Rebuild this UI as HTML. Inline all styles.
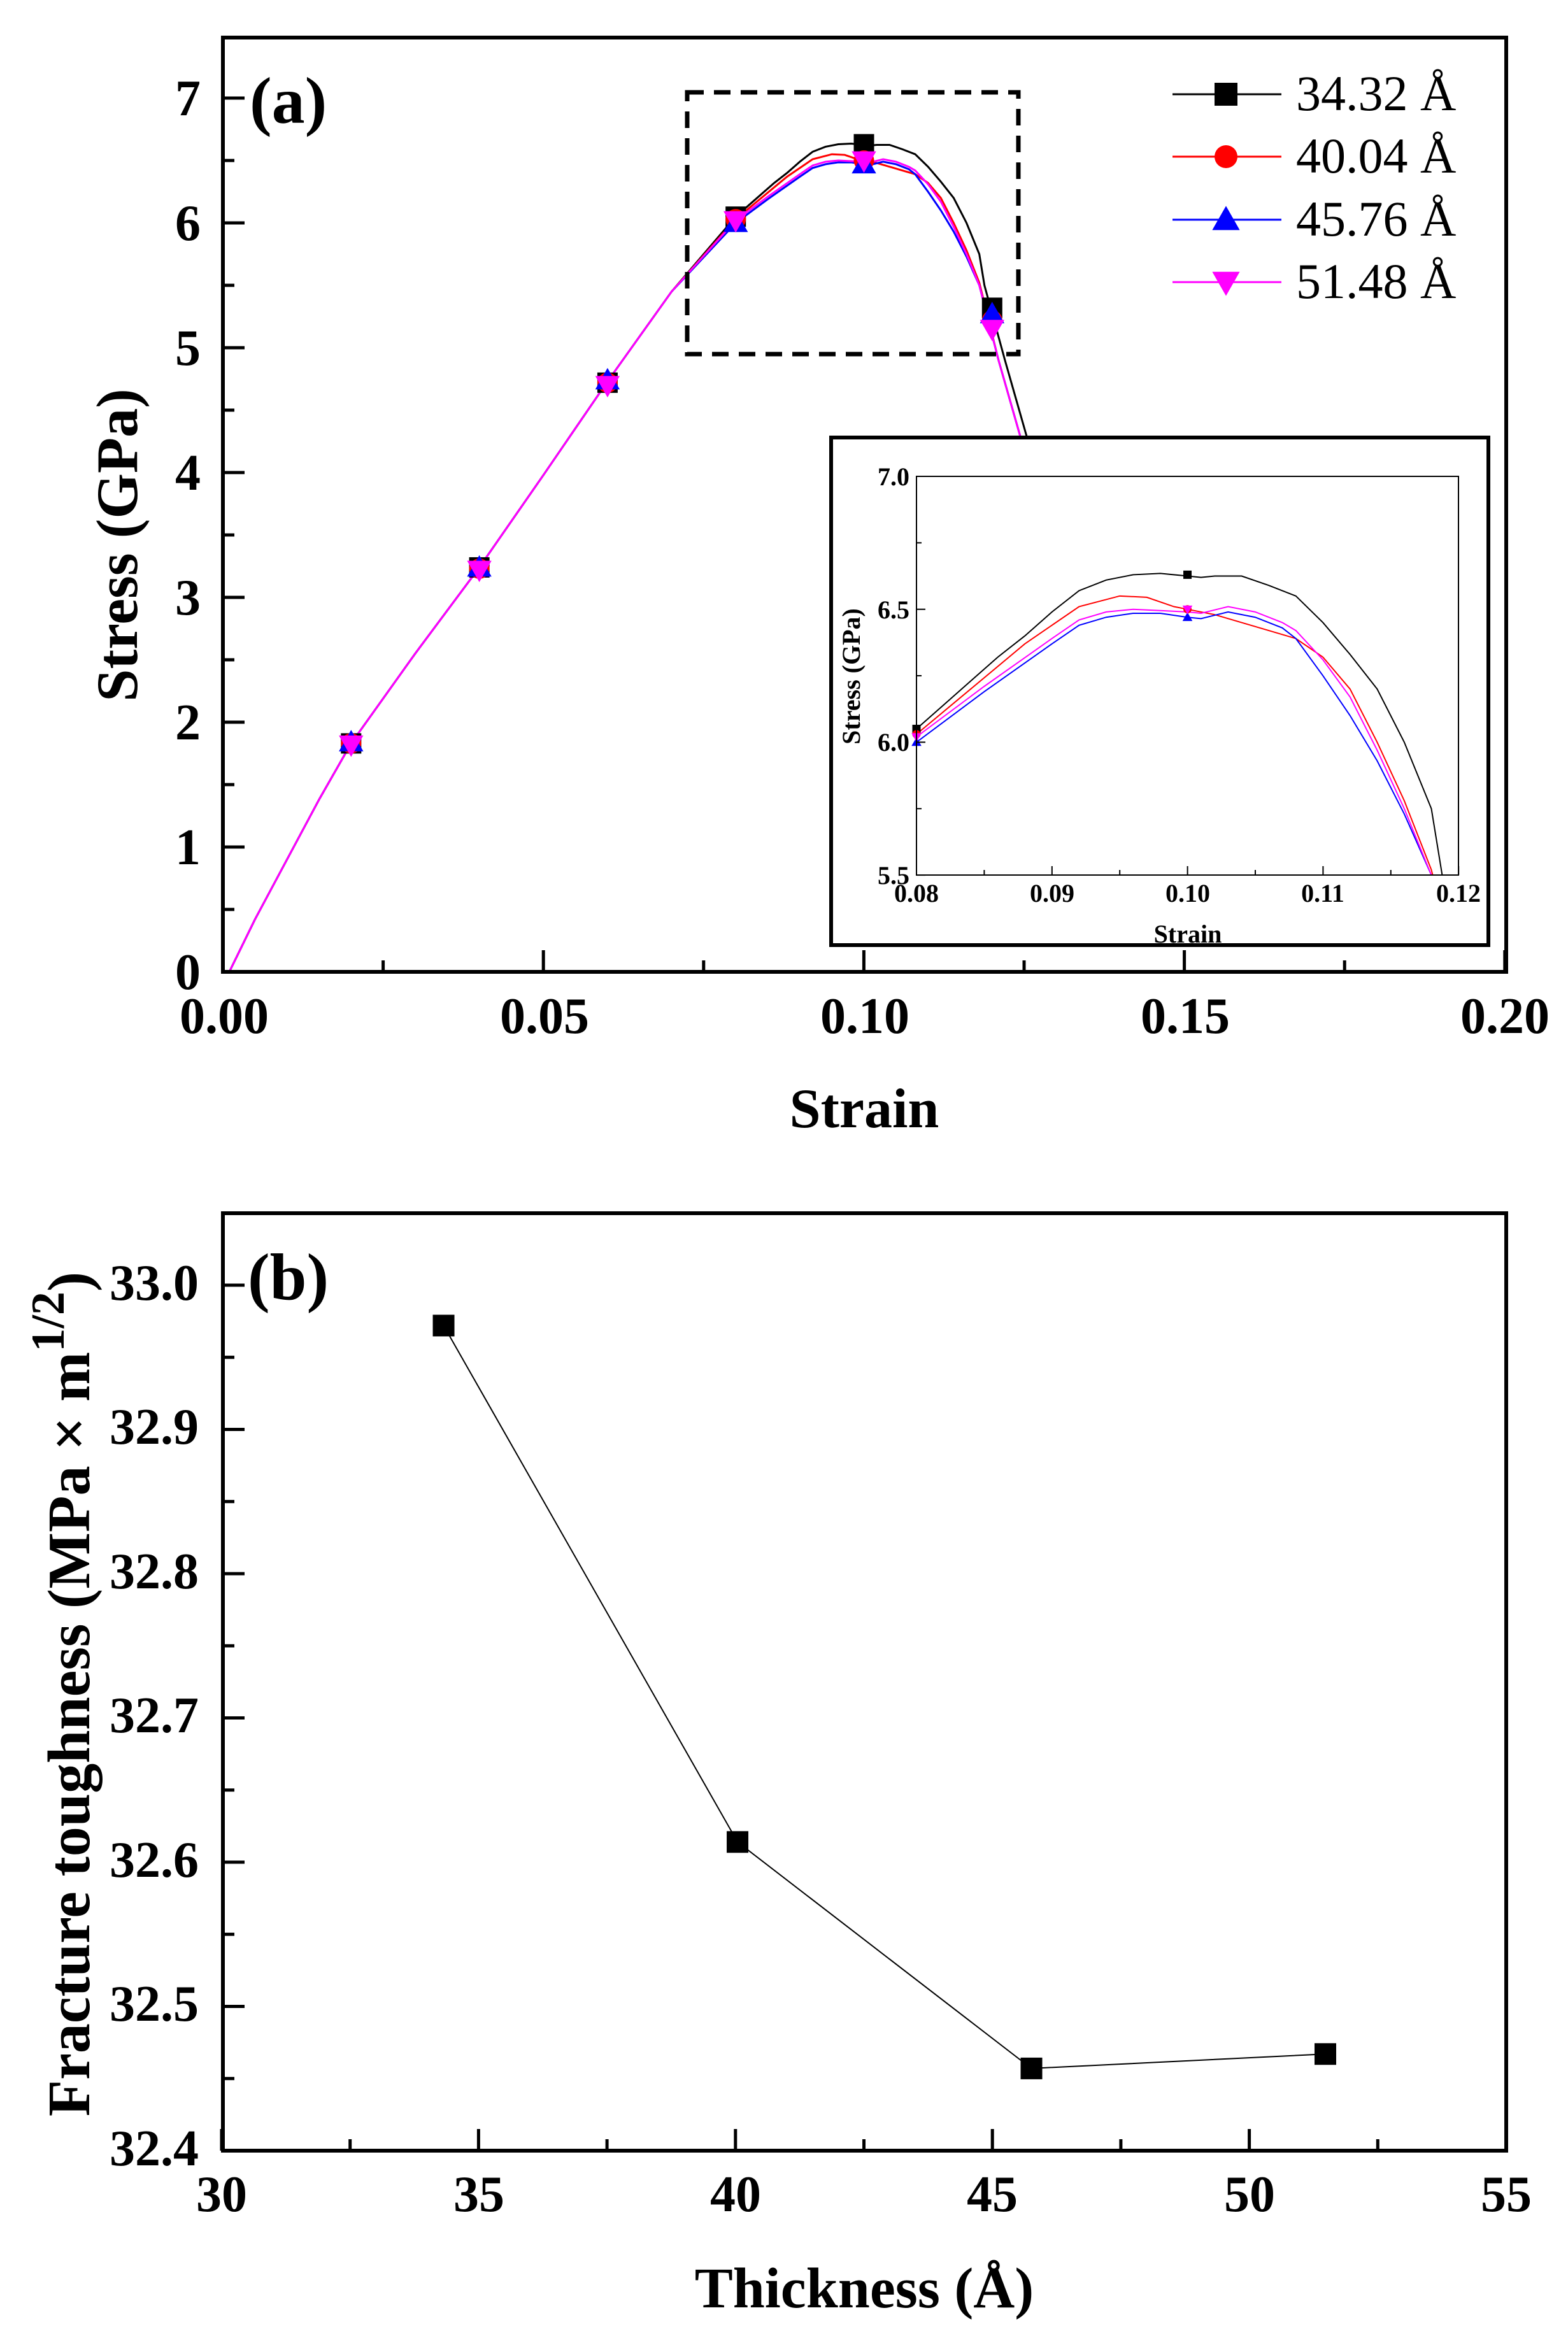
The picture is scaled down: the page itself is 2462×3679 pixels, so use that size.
<!DOCTYPE html>
<html><head><meta charset="utf-8"><style>
html,body{margin:0;padding:0;background:#fff;}
svg{display:block;}
text{font-family:"Liberation Serif",serif;}
</style></head><body>
<svg id="s" width="2462" height="3679" viewBox="0 0 2462 3679" xmlns="http://www.w3.org/2000/svg">
<rect width="2462" height="3679" fill="#fff"/>
<g id="main"></g>
<rect x="1079" y="145" width="520" height="411" fill="none" stroke="#000" stroke-width="7" stroke-dasharray="26,16"/>
<rect x="1305" y="687" width="1032" height="797" fill="#fff" stroke="#000" stroke-width="6"/>
<g id="inset"></g>
<rect x="1439" y="748" width="851" height="626" fill="none" stroke="#000" stroke-width="2"/>
<g font-weight="bold" font-size="40" text-anchor="end">
<text x="1428" y="762">7.0</text><text x="1428" y="971">6.5</text><text x="1428" y="1179">6.0</text><text x="1428" y="1388">5.5</text>
</g>
<g font-weight="bold" font-size="40" text-anchor="middle">
<text x="1439" y="1416">0.08</text><text x="1652" y="1416">0.09</text><text x="1865" y="1416">0.10</text><text x="2077" y="1416">0.11</text><text x="2290" y="1416">0.12</text>
<text x="1865" y="1480">Strain</text>
<text transform="translate(1350,1062) rotate(-90)">Stress (GPa)</text>
</g>
<rect x="350" y="59" width="2015" height="1467" fill="none" stroke="#000" stroke-width="6"/>
<g id="ticksA"></g>
<g font-weight="bold" font-size="80" text-anchor="end">
<text x="315" y="1553">0</text><text x="315" y="1357">1</text><text x="315" y="1161">2</text><text x="315" y="965">3</text><text x="315" y="769">4</text><text x="315" y="573">5</text><text x="315" y="377">6</text><text x="315" y="181">7</text>
</g>
<g font-weight="bold" font-size="80" text-anchor="middle">
<text x="352" y="1622">0.00</text><text x="855" y="1622">0.05</text><text x="1358" y="1622">0.10</text><text x="1861" y="1622">0.15</text><text x="2363" y="1622">0.20</text>
<text x="1357" y="1770" font-size="88">Strain</text>
<text transform="translate(215,856) rotate(-90)" font-size="92">Stress (GPa)</text>
</g>
<text x="392" y="193" font-weight="bold" font-size="104">(a)</text>
<g id="legend"></g>
<g font-size="78">
<text x="2035" y="173">34.32 Å</text><text x="2035" y="271">40.04 Å</text><text x="2035" y="370">45.76 Å</text><text x="2035" y="468">51.48 Å</text>
</g>
<rect x="350" y="1905" width="2015" height="1472" fill="none" stroke="#000" stroke-width="6"/>
<g id="b"></g>
<g font-weight="bold" font-size="80" text-anchor="end">
<text x="312" y="3400">32.4</text><text x="312" y="3173">32.5</text><text x="312" y="2947">32.6</text><text x="312" y="2720">32.7</text><text x="312" y="2494">32.8</text><text x="312" y="2267">32.9</text><text x="312" y="2041">33.0</text>
</g>
<g font-weight="bold" font-size="80" text-anchor="middle">
<text x="348" y="3472">30</text><text x="752" y="3472">35</text><text x="1155" y="3472">40</text><text x="1558" y="3472">45</text><text x="1962" y="3472">50</text><text x="2365" y="3472">55</text>
<text x="1357" y="3623" font-size="90">Thickness (Å)</text>
<text transform="translate(140,2660) rotate(-90)" font-size="94">Fracture toughness (MPa × m<tspan dy="-40" font-size="74">1/2</tspan><tspan dy="40">)</tspan></text>
</g>
<text x="389" y="2040" font-weight="bold" font-size="104">(b)</text>
</svg>
<script>
const NS="http://www.w3.org/2000/svg";
function el(p,t,a){const e=document.createElementNS(NS,t);for(const k in a)e.setAttribute(k,a[k]);p.appendChild(e);return e;}
const MX=x=>350+x/0.05*503.25, MY=y=>1526-y*196;
const IX=x=>1439+(x-0.08)/0.01*212.75, IY=y=>748+(7-y)/0.5*208.7;
const early=[[0.001,0],[0.005,0.42],[0.01,0.9],[0.015,1.38],[0.02,1.83],[0.03,2.55],[0.04,3.24],[0.05,3.98],[0.06,4.73],[0.07,5.45]];
const S={
k:{c:"#000",d:[[0.08,6.05],[0.082,6.14],[0.084,6.23],[0.086,6.32],[0.088,6.40],[0.09,6.49],[0.092,6.57],[0.094,6.61],[0.096,6.63],[0.098,6.635],[0.1,6.625],[0.101,6.62],[0.102,6.625],[0.104,6.625],[0.106,6.59],[0.108,6.55],[0.11,6.45],[0.112,6.33],[0.114,6.2],[0.116,6.0],[0.118,5.75],[0.1188,5.5],[0.122,4.9],[0.127,4.0]]},
r:{c:"#f00",d:[[0.08,6.03],[0.084,6.2],[0.088,6.37],[0.092,6.51],[0.095,6.55],[0.097,6.545],[0.099,6.51],[0.1,6.5],[0.102,6.48],[0.104,6.45],[0.106,6.42],[0.108,6.39],[0.11,6.32],[0.112,6.2],[0.114,6.0],[0.116,5.78],[0.118,5.52],[0.1181,5.5],[0.121,4.9],[0.126,4.0]]},
b:{c:"#00f",d:[[0.08,6.0],[0.085,6.19],[0.09,6.37],[0.092,6.44],[0.094,6.47],[0.096,6.485],[0.098,6.485],[0.1,6.47],[0.101,6.465],[0.103,6.49],[0.105,6.47],[0.107,6.43],[0.108,6.39],[0.11,6.25],[0.112,6.1],[0.114,5.93],[0.116,5.73],[0.118,5.5],[0.121,4.9],[0.126,4.0]]},
m:{c:"#f0f",d:[[0.08,6.02],[0.085,6.21],[0.09,6.39],[0.092,6.46],[0.094,6.49],[0.096,6.5],[0.098,6.495],[0.1,6.49],[0.101,6.485],[0.103,6.51],[0.105,6.49],[0.107,6.45],[0.108,6.42],[0.11,6.31],[0.112,6.17],[0.114,5.97],[0.116,5.75],[0.118,5.5],[0.121,4.9],[0.126,4.0]]}};
const main=document.getElementById("main"),ins=document.getElementById("inset");
function mark(g,type,x,y,s,c){
 if(type=="k")el(g,"rect",{x:x-s/2,y:y-s/2,width:s,height:s,fill:c});
 else if(type=="r")el(g,"circle",{cx:x,cy:y,r:s/2,fill:c});
 else if(type=="b")el(g,"polygon",{points:`${x},${y-s*0.6} ${x-s*0.6},${y+s*0.45} ${x+s*0.6},${y+s*0.45}`,fill:c});
 else el(g,"polygon",{points:`${x},${y+s*0.6} ${x-s*0.6},${y-s*0.45} ${x+s*0.6},${y-s*0.45}`,fill:c});
}
for(const k of ["k","r","b","m"]){const s=S[k];const pts=early.concat(s.d);
 el(main,"polyline",{points:pts.map(p=>MX(p[0])+","+MY(p[1])).join(" "),fill:"none",stroke:s.c,"stroke-width":3});
 el(ins,"polyline",{points:s.d.filter(p=>p[1]>=5.5).map(p=>IX(p[0])+","+IY(p[1])).join(" "),fill:"none",stroke:s.c,"stroke-width":2});
}
const mk={k:[[0.02,1.83],[0.04,3.24],[0.06,4.72],[0.08,6.05],[0.1,6.63],[0.12,5.32]],r:[[0.02,1.83],[0.04,3.23],[0.06,4.72],[0.08,6.03],[0.1,6.5],[0.12,5.22]],b:[[0.02,1.84],[0.04,3.24],[0.06,4.74],[0.08,6.0],[0.1,6.47],[0.12,5.27]],m:[[0.02,1.82],[0.04,3.22],[0.06,4.7],[0.08,6.02],[0.1,6.5],[0.12,5.15]]};
for(const k of ["k","r","b","m"]){for(const p of mk[k])mark(main,k,MX(p[0]),MY(p[1]),32,S[k].c);
 for(const p of mk[k])if(p[0]>=0.08&&p[0]<=0.1)mark(ins,k,IX(p[0]),IY(p[1]),13,S[k].c);}
for(let i=0;i<=8;i++){const x=1439+i*106.4;el(ins,"line",{x1:x,y1:1374,x2:x,y2:1374-(i%2?8:14),stroke:"#000","stroke-width":2});}
for(let i=0;i<=6;i++){const y=748+i*104.35;el(ins,"line",{x1:1439,y1:y,x2:1439+(i%2?8:14),y2:y,stroke:"#000","stroke-width":2});}
const ta=document.getElementById("ticksA");
for(let i=0;i<=8;i++){const x=350+i*251.6;el(ta,"line",{x1:x,y1:1526,x2:x,y2:1526-(i%2?18:34),stroke:"#000","stroke-width":5});}
for(let i=0;i<=15;i++){const y=1526-i*98;if(y<60)break;el(ta,"line",{x1:350,y1:y,x2:350+(i%2?18:34),y2:y,stroke:"#000","stroke-width":5});}
const lg=document.getElementById("legend");const ly=[148,246,345,443];["k","r","b","m"].forEach((k,i)=>{el(lg,"line",{x1:1841,y1:ly[i],x2:2012,y2:ly[i],stroke:S[k].c,"stroke-width":3});mark(lg,k,1925,ly[i],36,S[k].c);});
const gb=document.getElementById("b");const BX=x=>348+(x-30)/5*403.4, BY=y=>3377-(y-32.4)/0.1*226.5;
const bp=[[34.32,32.972],[40.04,32.614],[45.76,32.457],[51.48,32.467]];
el(gb,"polyline",{points:bp.map(p=>BX(p[0])+","+BY(p[1])).join(" "),fill:"none",stroke:"#000","stroke-width":2});
bp.forEach(p=>el(gb,"rect",{x:BX(p[0])-17,y:BY(p[1])-17,width:34,height:34,fill:"#000"}));
for(let i=0;i<=10;i++){const x=348+i*201.7;el(gb,"line",{x1:x,y1:3377,x2:x,y2:3377-(i%2?18:34),stroke:"#000","stroke-width":5});}
for(let i=0;i<=13;i++){const y=3377-i*113.25;if(y<1906)break;el(gb,"line",{x1:350,y1:y,x2:350+(i%2?18:34),y2:y,stroke:"#000","stroke-width":5});}
</script>
</body></html>
